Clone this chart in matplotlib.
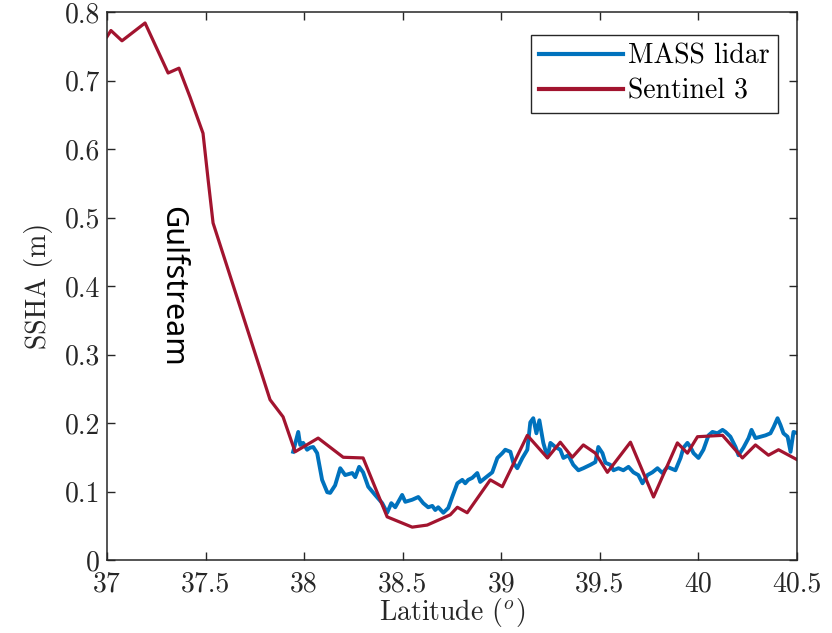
import matplotlib
matplotlib.use("Agg")
from matplotlib import pyplot as plt

# MASS lidar track (latitude, SSHA in m)
lidar_lat = [37.944, 37.970, 37.980, 37.995, 38.015, 38.030, 38.046, 38.066, 38.091, 38.117,
             38.132, 38.157, 38.183, 38.208, 38.244, 38.259, 38.279, 38.299, 38.325, 38.360,
             38.396, 38.421, 38.442, 38.462, 38.497, 38.513, 38.548, 38.579, 38.604, 38.629,
             38.650, 38.665, 38.680, 38.706, 38.731, 38.751, 38.777, 38.802, 38.817, 38.832,
             38.853, 38.878, 38.893, 38.919, 38.954, 38.980, 39.005, 39.020, 39.046, 39.061,
             39.081, 39.107, 39.132, 39.147, 39.162, 39.178, 39.193, 39.213, 39.234, 39.249,
             39.274, 39.299, 39.315, 39.340, 39.365, 39.391, 39.416, 39.452, 39.477, 39.492,
             39.513, 39.528, 39.553, 39.569, 39.594, 39.619, 39.645, 39.670, 39.695, 39.716,
             39.741, 39.766, 39.792, 39.817, 39.843, 39.858, 39.883, 39.909, 39.924, 39.944,
             39.959, 39.975, 40.000, 40.025, 40.051, 40.071, 40.096, 40.122, 40.137, 40.162,
             40.188, 40.203, 40.228, 40.254, 40.269, 40.289, 40.315, 40.340, 40.365, 40.381,
             40.401, 40.416, 40.431, 40.452, 40.467, 40.482, 40.503]
lidar_ssha = [0.158, 0.187, 0.168, 0.171, 0.161, 0.164, 0.165, 0.156, 0.117, 0.099,
              0.098, 0.109, 0.134, 0.124, 0.127, 0.121, 0.136, 0.128, 0.107, 0.095,
              0.083, 0.069, 0.083, 0.077, 0.095, 0.085, 0.088, 0.092, 0.083, 0.077,
              0.079, 0.073, 0.077, 0.069, 0.076, 0.092, 0.112, 0.117, 0.112, 0.117,
              0.120, 0.127, 0.114, 0.120, 0.128, 0.149, 0.156, 0.161, 0.158, 0.142,
              0.134, 0.149, 0.161, 0.201, 0.207, 0.185, 0.204, 0.171, 0.150, 0.171,
              0.165, 0.161, 0.149, 0.153, 0.139, 0.131, 0.134, 0.139, 0.143, 0.165,
              0.156, 0.142, 0.139, 0.131, 0.134, 0.131, 0.136, 0.128, 0.124, 0.112,
              0.124, 0.128, 0.134, 0.127, 0.136, 0.134, 0.131, 0.149, 0.164, 0.171,
              0.165, 0.156, 0.149, 0.161, 0.182, 0.187, 0.185, 0.190, 0.187, 0.180,
              0.165, 0.153, 0.164, 0.178, 0.190, 0.178, 0.180, 0.182, 0.185, 0.194,
              0.207, 0.197, 0.185, 0.180, 0.158, 0.187, 0.185]

# Sentinel 3 track
s3_lat = [37.000, 37.020, 37.076, 37.193, 37.310, 37.365, 37.421, 37.487, 37.513, 37.538,
          37.827, 37.893, 37.954, 38.071, 38.198, 38.299, 38.421, 38.548, 38.624, 38.741,
          38.777, 38.827, 38.944, 39.005, 39.132, 39.234, 39.299, 39.360, 39.416, 39.477,
          39.538, 39.655, 39.772, 39.893, 39.944, 39.995, 40.122, 40.223, 40.289, 40.355,
          40.406, 40.503]
s3_ssha = [0.764, 0.773, 0.758, 0.784, 0.711, 0.718, 0.676, 0.623, 0.555, 0.492,
           0.234, 0.209, 0.158, 0.178, 0.150, 0.149, 0.063, 0.048, 0.051, 0.066,
           0.077, 0.069, 0.117, 0.107, 0.182, 0.149, 0.172, 0.150, 0.168, 0.156,
           0.128, 0.172, 0.092, 0.171, 0.156, 0.180, 0.182, 0.149, 0.168, 0.153,
           0.161, 0.146]

x_ticks = [37, 37.5, 38, 38.5, 39, 39.5, 40, 40.5]
x_labels = ["37", "37.5", "38", "38.5", "39", "39.5", "40", "40.5"]
y_ticks = [0, 0.1, 0.2, 0.3, 0.4, 0.5, 0.6, 0.7, 0.8]
y_labels = ["0", "0.1", "0.2", "0.3", "0.4", "0.5", "0.6", "0.7", "0.8"]

plt.rcParams["font.family"] = "cmr10"
plt.rcParams["mathtext.fontset"] = "cm"
plt.rcParams["axes.formatter.use_mathtext"] = True

fig = plt.figure(figsize=(8.32, 6.33), dpi=100)
ax = fig.add_axes([0.1286, 0.1153, 0.8294, 0.8657])

ax.plot(lidar_lat, lidar_ssha, color="#0072BD", lw=2.8, label="MASS lidar")
ax.plot(s3_lat, s3_ssha, color="#A2142F", lw=2.3, label="Sentinel 3")

ax.set_xlim(37, 40.5)
ax.set_ylim(0, 0.8)
ax.set_xticks(x_ticks)
ax.set_xticklabels(x_labels)
ax.set_yticks(y_ticks)
ax.set_yticklabels(y_labels)
ax.tick_params(direction="in", length=6, width=1, top=True, right=True,
               labelsize=20, colors="#262626")
ax.tick_params(axis="x", pad=8)
ax.tick_params(axis="y", pad=5)
for s in ax.spines.values():
    s.set_linewidth(1.1)
    s.set_color("#262626")

ax.set_xlabel("Latitude ($^o$)", fontsize=20, color="#262626", labelpad=-1)
ax.set_ylabel("SSHA (m)", fontsize=20, color="#262626", labelpad=8)

leg = ax.legend(loc="upper right", bbox_to_anchor=(0.9725, 0.958), borderaxespad=0,
                fontsize=20, handlelength=3.0, handletextpad=0.2, borderpad=0.3,
                labelspacing=0.3, fancybox=False, framealpha=1,
                edgecolor="#262626")
leg.get_frame().set_linewidth(1.0)
for h in leg.get_lines():
    h.set_linewidth(3.0)

ax.text(37.33, 0.40, "Gulfstream", rotation=-90, family="Noto Sans", fontsize=22,
        ha="center", va="center")

fig.savefig("out.png", dpi=100)
